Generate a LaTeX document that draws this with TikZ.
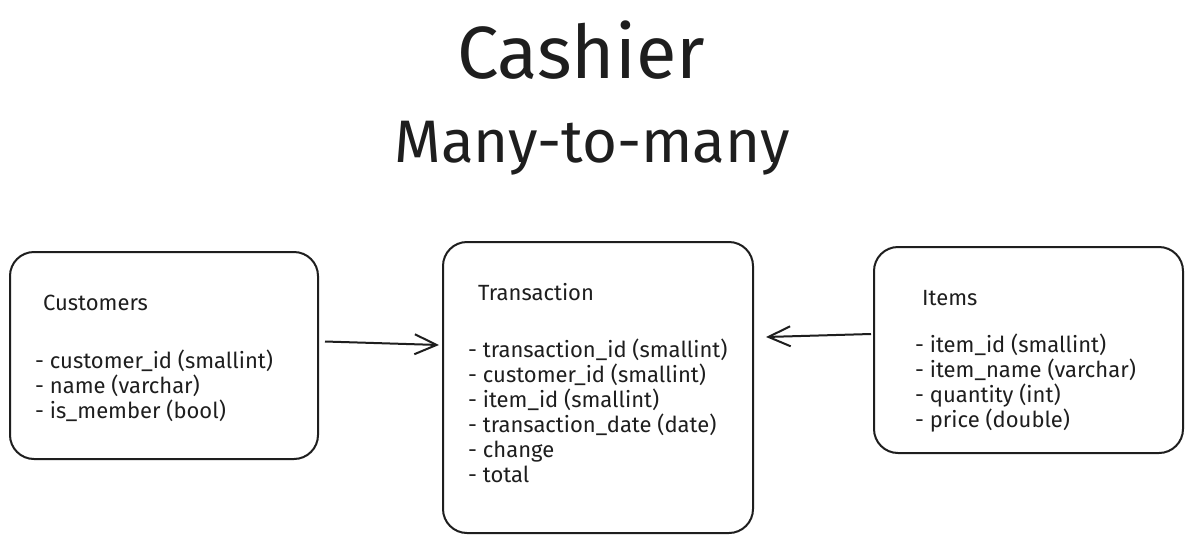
\documentclass[tikz,border=0pt]{standalone}
\usepackage{fontspec}
\setmainfont{Fira Sans}
\usetikzlibrary{arrows.meta,calc}
\definecolor{ink}{HTML}{1E1E1E}
\tikzset{
  table/.style={draw=ink, line width=2pt, rounded corners=24pt},
  field/.style={anchor=base west, inner sep=0pt, text=ink, font=\fontsize{22}{25}\selectfont},
  rel/.style={draw=ink, line width=2pt, -{Straight Barb[length=22pt,width=20pt]}}
}
\begin{document}
\begin{tikzpicture}[x=1pt,y=-1pt]
  \useasboundingbox[fill=white] (0,0) rectangle (1192,544);
  \node[anchor=base, text=ink, font=\fontsize{74}{80}\selectfont] (title) at (581,78) {Cashier};
  \node[anchor=base, text=ink, font=\fontsize{60}{66}\selectfont] (subtitle) at (592,162) {Many-to-many};

  \node[table, minimum width=308pt, minimum height=207pt] (cust) at (164,355.5) {};
  \node[table, minimum width=310pt, minimum height=291pt] (trans) at (598,387.5) {};
  \node[table, minimum width=309pt, minimum height=206pt] (items) at (1028.5,350) {};

  \node[field] (cust-name) at (43,310) {Customers};
  \foreach \f [count=\i from 0] in {- customer\_id (smallint), - name (varchar), - is\_member (bool)}
    \node[field] (cust-f\i) at (35,368+25*\i) {\f};

  \node[field] (trans-name) at (478,300) {Transaction};
  \foreach \f [count=\i from 0] in {- transaction\_id (smallint), - customer\_id (smallint), - item\_id (smallint), - transaction\_date (date), - change, - total}
    \node[field] (trans-f\i) at (468,357+25*\i) {\f};

  \node[field] (items-name) at (922,305) {Items};
  \foreach \f [count=\i from 0] in {- item\_id (smallint), - item\_name (varchar), - quantity (int), - price (double)}
    \node[field] (items-f\i) at (915,352+25*\i) {\f};

  \draw[rel] ($(cust.east)+(6,-14)$) -- ($(trans.west)+(-3,-42.5)$);
  \draw[rel] ($(items.west)+(-2,-16)$) -- ($(trans.east)+(12,-50.5)$);
\end{tikzpicture}
\end{document}
